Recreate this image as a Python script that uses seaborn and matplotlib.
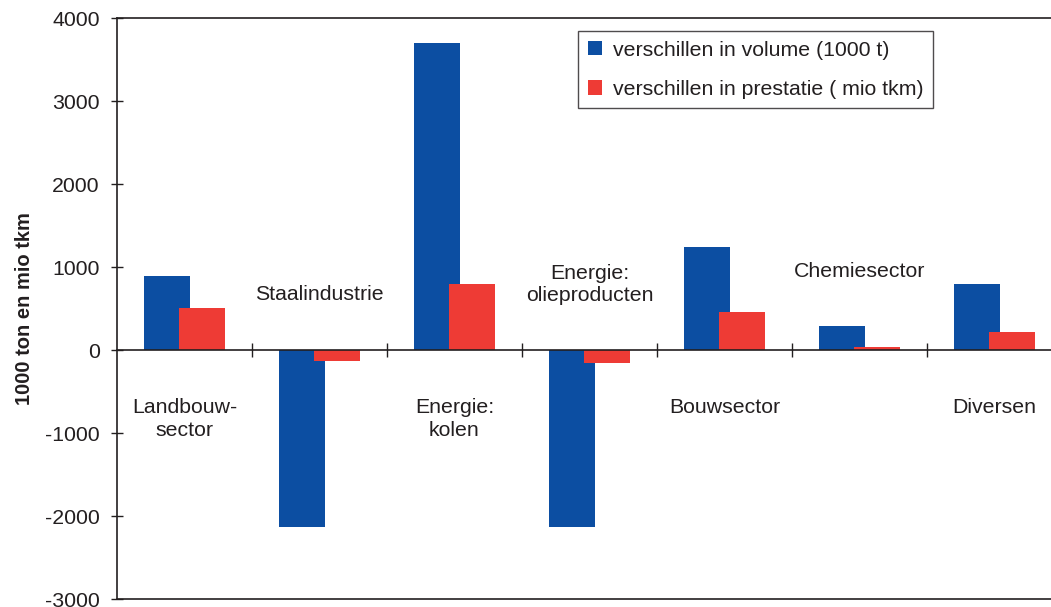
import matplotlib
matplotlib.use("Agg")
import matplotlib.pyplot as plt
import seaborn as sns
import pandas as pd

# Données
sectoren = ["Landbouw-\nsector", "Staalindustrie", "Energie:\nkolen",
            "Energie:\nolieproducten", "Bouwsector", "Chemiesector", "Diversen"]
volume = [890, -2130, 3700, -2130, 1240, 290, 800]
prestatie = [510, -125, 800, -150, 460, 40, 220]
series = ["verschillen in volume (1000 t)", "verschillen in prestatie ( mio tkm)"]

df = pd.DataFrame({
    "sector": sectoren * 2,
    "waarde": volume + prestatie,
    "reeks": [series[0]] * len(sectoren) + [series[1]] * len(sectoren),
})

blauw = "#0c4ea2"
rood = "#ee3b35"

sns.set_style("white")
plt.rcParams["font.family"] = ["Liberation Sans", "DejaVu Sans"]
plt.rcParams["axes.unicode_minus"] = False

fig = plt.figure(figsize=(10.51, 6.07), dpi=100)
ax = fig.add_axes([117 / 1051, 7.7 / 607, 945 / 1051, 581 / 607])

sns.barplot(data=df, x="sector", y="waarde", hue="reeks", hue_order=series,
            palette={series[0]: blauw, series[1]: rood}, dodge=True, width=0.52,
            saturation=1, legend=False, linewidth=0, edgecolor="none", ax=ax)

# bars overlappen elkaar: breder maken rond hetzelfde midden
for cont in ax.containers:
    for bar in cont:
        mid = bar.get_x() + bar.get_width() / 2
        bar.set_width(0.34)
        bar.set_x(mid - 0.17)
        bar.set_linewidth(0)

ax.set_xlim(-0.5, 6.5)
ax.set_ylim(-3000, 4000)
ax.set_yticks(range(-3000, 4001, 1000))
ax.tick_params(axis="y", direction="inout", length=9, width=1, labelsize=15.3, pad=8,
               colors="#231f20", left=True)

# x-as op nul, met streepjes tussen de sectoren
ax.spines["bottom"].set_position(("data", 0))
ax.set_xticks([k + 0.5 for k in range(6)])
ax.set_xticklabels([])
ax.tick_params(axis="x", direction="inout", length=10, width=1, bottom=True, colors="#231f20")
ax.axhline(-3000, color="#231f20", lw=1.2, clip_on=False)
for s in ["left", "bottom", "top"]:
    ax.spines[s].set_color("#231f20")
    ax.spines[s].set_linewidth(1.2)
ax.spines["right"].set_visible(False)

ax.set_xlabel("")
ax.set_ylabel("1000 ton en mio tkm", fontsize=14.5, fontweight="bold", color="#231f20", labelpad=8)

# sectornamen in de grafiek
onder = [0, 2, 4, 6]
for i in onder:
    ax.text(i, -580, sectoren[i], ha="center", va="top", fontsize=15.3,
            linespacing=1.25, color="#231f20")
boven = {1: 600, 3: 590, 5: 880}
for i, y in boven.items():
    ax.text(i, y, sectoren[i], ha="center", va="baseline", fontsize=15.3,
            linespacing=1.2, color="#231f20")

handles = [cont.patches[0] for cont in ax.containers]
leg = ax.legend(handles, series, loc="upper left", bbox_to_anchor=(0.488, 0.978),
                fontsize=15.3, frameon=True, fancybox=False, edgecolor="#231f20",
                handlelength=0.67, handleheight=0.67, handletextpad=0.5,
                labelspacing=0.95, borderpad=0.45, borderaxespad=0)
leg.get_frame().set_linewidth(1)
for t in leg.get_texts():
    t.set_color("#231f20")

fig.savefig("out.png", dpi=100)
